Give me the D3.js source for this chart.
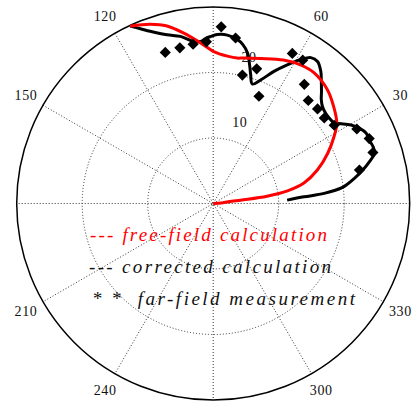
<!DOCTYPE html>
<html>
<head>
<meta charset="utf-8">
<script src="https://cdn.jsdelivr.net/npm/d3@7"></script>
<style>
  html, body { margin: 0; padding: 0; background: #fff; }
  svg { display: block; }
  text { font-family: "Liberation Serif", "Times New Roman", serif; white-space: pre; }
</style>
</head>
<body>
<svg id="chart" width="415" height="405"></svg>
<script>
// Angles in degrees (counter-clockwise from 0°), radial values in plot units.
const freeFieldAngle = [0, 5, 6.9, 7.7, 9.6, 12.7, 17.8, 23.7, 29.0, 33.0, 38.8, 44.8, 52.4, 57.8,
  63.9, 71.9, 78.2, 80.6, 84.5, 89.8, 94.5, 99.8, 104.6, 109.4, 115.1];
const freeFieldValue = [0, 1.5, 4.2, 8.3, 11.5, 14.2, 16.7, 19.1, 21.1, 22.5, 23.6, 24.6, 25.2, 25.0,
  24.4, 23.3, 22.7, 22.5, 22.6, 23.2, 24.6, 26.4, 28.0, 29.0, 29.9];

const correctedAngle = [2.6, 4.2, 5.2, 7.1, 10.1, 12.6, 15.0, 17.3, 19.6, 22.2, 24.7, 27.3, 29.7,
  32.0, 33.6, 36.4, 38.7, 41.6, 43.9, 46.0, 48.9, 50.8, 53.7, 56.2, 58.7, 61.9, 65.3, 69.0, 71.9,
  73.8, 75.1, 77.2, 79.5, 81.6, 85.2, 88.6, 90.9, 92.7, 94.5, 96.8, 101.1, 105.3, 110.1, 112.6, 115.1];
const correctedValue = [11.3, 13.9, 17.0, 19.9, 21.9, 23.4, 24.7, 25.8, 25.9, 25.7, 25.7, 25.1, 24.2,
  23.0, 22.2, 22.0, 22.0, 22.3, 22.9, 23.8, 25.1, 26.0, 26.9, 26.8, 25.7, 24.0, 22.2, 20.2, 19.2,
  20.5, 21.7, 23.6, 24.7, 25.3, 25.8, 25.8, 25.5, 25.2, 24.8, 24.9, 26.0, 26.7, 28.0, 28.9, 29.9];

const measuredAngle = [12.9, 17.7, 22.6, 27.4, 32.9, 37.6, 42.2, 47.3, 52.6, 58.0, 62.2, 66.9, 72.1,
  77.2, 82.3, 87.4, 92.4, 97.2, 102.1, 107.6];
const measuredValue = [22.9, 25.6, 25.8, 24.7, 22.0, 21.4, 21.5, 21.4, 22.9, 25.8, 25.9, 17.8, 21.6,
  20.1, 25.5, 27.0, 24.7, 24.5, 24.3, 24.2];

const ringTicks = [10, 20, 30];
const ringLabels = ["10", "20"];
const spokeAngles = [0, 30, 60, 90, 120, 150];
const angleLabels = [30, 60, 120, 150, 210, 240, 300, 330];
const legendLabels = ["--- free-field calculation", "--- corrected calculation", "* *  far-field measurement"];

const svg = d3.select("#chart");
const cx = 213.2, cy = 203.5, R = 196.5;
const r = d3.scaleLinear().domain([0, 30]).range([0, R]);
const rad = d => d * Math.PI / 180;
const px = (a, v) => cx + r(v) * Math.cos(rad(a));
const py = (a, v) => cy - r(v) * Math.sin(rad(a));

const grid = svg.append("g");
// dotted inner rings
grid.selectAll("circle.ring").data(ringTicks.slice(0, -1)).join("circle")
  .attr("cx", cx).attr("cy", cy).attr("r", d => r(d))
  .attr("fill", "none").attr("stroke", "#333").attr("stroke-width", 1)
  .attr("stroke-dasharray", "1,2");
// dotted spokes through the centre
grid.selectAll("line.spoke").data(spokeAngles).join("line")
  .attr("x1", d => px(d, 30)).attr("y1", d => py(d, 30))
  .attr("x2", d => px(d + 180, 30)).attr("y2", d => py(d + 180, 30))
  .attr("stroke", "#333").attr("stroke-width", 1).attr("stroke-dasharray", "1,2");
// outer boundary
grid.append("circle").attr("cx", cx).attr("cy", cy).attr("r", r(30))
  .attr("fill", "none").attr("stroke", "#000").attr("stroke-width", 1.5);

// radial tick labels along the 82° direction
grid.selectAll("text.rl").data(ringLabels).join("text")
  .attr("x", (d, i) => px(82, ringTicks[i]) + 10)
  .attr("y", (d, i) => py(82, ringTicks[i]) - 12)
  .attr("font-size", 14).attr("letter-spacing", 0.5).attr("fill", "#111")
  .text(d => d);

// angle labels outside the boundary
grid.selectAll("text.al").data(angleLabels).join("text")
  .attr("x", d => cx + r(30) * 1.1 * Math.cos(rad(d)))
  .attr("y", d => cy - r(30) * 1.1 * Math.sin(rad(d)))
  .attr("text-anchor", "middle").attr("dominant-baseline", "central")
  .attr("font-size", 14).attr("letter-spacing", 0.6).attr("fill", "#111")
  .text(d => d);

// legend text
const legend = svg.append("g");
const legendX = [90, 89, 92], legendY = [241, 273, 305], legendW = [237, 242, 263];
const legendColor = ["#ff0000", "#111", "#111"];
legend.selectAll("text").data(legendLabels).join("text")
  .attr("x", (d, i) => legendX[i]).attr("y", (d, i) => legendY[i])
  .attr("font-size", 19).attr("font-style", "italic")
  .attr("textLength", (d, i) => legendW[i]).attr("lengthAdjust", "spacing")
  .attr("fill", (d, i) => legendColor[i])
  .text(d => d);

const radial = d3.lineRadial()
  .angle(d => rad(90 - d[0]))
  .radius(d => r(d[1]))
  .curve(d3.curveCatmullRom.alpha(0.5));

const plot = svg.append("g").attr("transform", `translate(${cx},${cy})`);

plot.append("path")
  .datum(d3.zip(correctedAngle, correctedValue))
  .attr("d", radial).attr("fill", "none")
  .attr("stroke", "#000").attr("stroke-width", 3).attr("stroke-linejoin", "round");

plot.append("path")
  .datum(d3.zip(freeFieldAngle, freeFieldValue))
  .attr("d", radial).attr("fill", "none")
  .attr("stroke", "#ff0000").attr("stroke-width", 3).attr("stroke-linejoin", "round");

const diamond = d3.symbol(d3.symbolSquare, 62);
plot.selectAll("path.pt").data(d3.zip(measuredAngle, measuredValue)).join("path")
  .attr("d", diamond)
  .attr("transform", d => `translate(${r(d[1]) * Math.cos(rad(d[0]))},${-r(d[1]) * Math.sin(rad(d[0]))}) rotate(45)`)
  .attr("fill", "#000");
</script>
</body>
</html>
